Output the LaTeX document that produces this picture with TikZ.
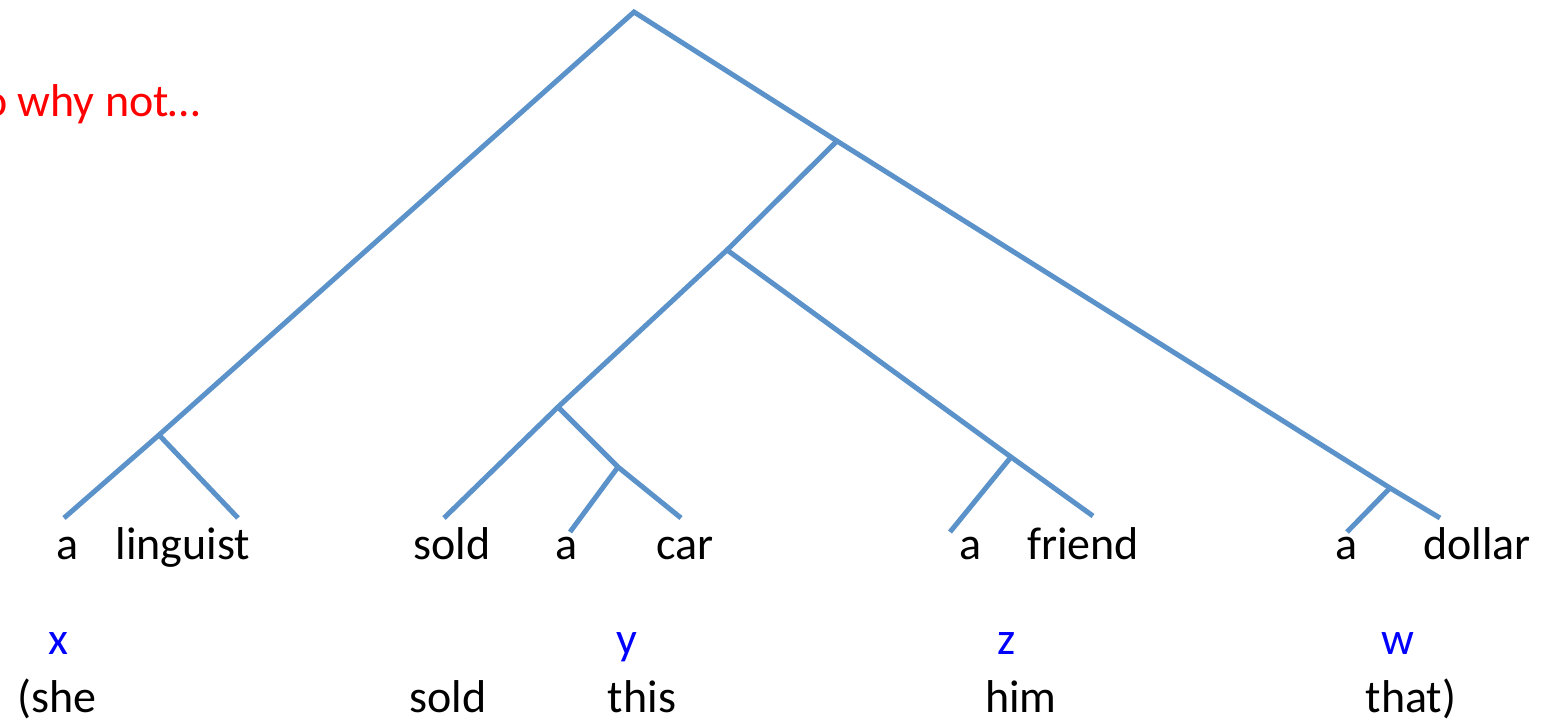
\documentclass[tikz,border=0pt]{standalone}
\usepackage{fontspec}
\setmainfont{Carlito}
\definecolor{branch}{RGB}{91,146,201}
\definecolor{varblue}{RGB}{0,0,255}
\definecolor{redtxt}{RGB}{255,0,0}
\tikzset{
  edge/.style={draw=branch, line width=5pt, line cap=butt},
  word/.style={anchor=base, inner sep=0pt, font=\fontsize{46}{52}\selectfont},
  var/.style={word, text=varblue},
  note/.style={anchor=base east, inner sep=0pt, text=redtxt, font=\fontsize{46}{52}\selectfont}
}
\begin{document}
\begin{tikzpicture}[x=1pt,y=-1pt]
\useasboundingbox (0,0) rectangle (1541,723);
\begin{scope}
\clip (0,0) rectangle (1541,723);
\node[note] (title) at (201,116) {So why not…};
\end{scope}
% tree points
\coordinate (root) at (634,12);
\coordinate (n1) at (159,435);
\coordinate (n2) at (837,141);
\coordinate (n3) at (727,250);
\coordinate (n4) at (558,407);
\coordinate (n5) at (618,467);
\coordinate (n6) at (1011,457);
\coordinate (n7) at (1390,488);
\coordinate (l1) at (64,518);
\coordinate (l2) at (238,518);
\coordinate (l3) at (444,518);
\coordinate (l4) at (570,532);
\coordinate (l5) at (681,518);
\coordinate (l6) at (950,532);
\coordinate (l7) at (1093,516);
\coordinate (l8) at (1347,532);
\coordinate (l9) at (1440,518);
% branches
\draw[edge] (l1) -- (n1) -- (root) -- (n2) -- (n7) -- (l9);
\draw[edge] (n1) -- (l2);
\draw[edge] (n2) -- (n3) -- (n4) -- (l3);
\draw[edge] (n4) -- (n5) -- (l5);
\draw[edge] (n5) -- (l4);
\draw[edge] (n3) -- (n6) -- (l7);
\draw[edge] (n6) -- (l6);
\draw[edge] (n7) -- (l8);
% words
\node[word] (w1) at (68,559) {a};
\node[word] (w2) at (183,559) {linguist};
\node[word] (w3) at (452,559) {sold};
\node[word] (w4) at (567,559) {a};
\node[word] (w5) at (685,559) {car};
\node[word] (w6) at (971,559) {a};
\node[word] (w7) at (1083,559) {friend};
\node[word] (w8) at (1346,559) {a};
\node[word] (w9) at (1477,559) {dollar};
% variables
\node[var] (vx) at (58,654) {x};
\node[var] (vy) at (627,654) {y};
\node[var] (vz) at (1007,654) {z};
\node[var] (vw) at (1398,654) {w};
% paraphrase
\node[word] (p1) at (57,712) {(she};
\node[word] (p2) at (448,712) {sold};
\node[word] (p3) at (642,712) {this};
\node[word] (p4) at (1021,712) {him};
\node[word] (p5) at (1411,712) {that)};
\end{tikzpicture}
\end{document}
